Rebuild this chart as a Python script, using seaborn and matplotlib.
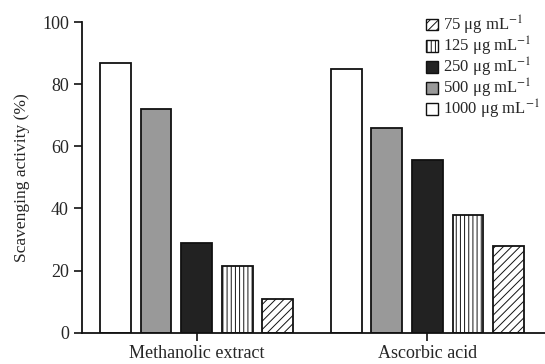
import matplotlib
matplotlib.use("Agg")
import matplotlib.pyplot as plt
import matplotlib.patches as mpatches
import seaborn as sns
import pandas as pd

# Scavenging activity (%) per extract and concentration
groups = ["Methanolic extract", "Ascorbic acid"]
concentrations = ["1000", "500", "250", "125", "75"]
methanolic = [87, 72, 29, 21.5, 11]
ascorbic = [85, 66, 55.5, 38, 28]

fills = {"1000": "#ffffff", "500": "#999999", "250": "#222222",
         "125": "#ffffff", "75": "#ffffff"}
hatches = {"1000": "", "500": "", "250": "", "125": "||||", "75": "////"}

rows = []
for g, vals in zip(groups, [methanolic, ascorbic]):
    for c, v in zip(concentrations, vals):
        rows.append({"group": g, "conc": c, "value": v})
df = pd.DataFrame(rows)

sns.set_style("ticks")
plt.rcParams["font.family"] = ["Liberation Serif", "DejaVu Serif"]
plt.rcParams["mathtext.fontset"] = "stix"
plt.rcParams["hatch.linewidth"] = 0.7
plt.rcParams["hatch.color"] = "#555555"

fig = plt.figure(figsize=(5.45, 3.64), dpi=100)
ax = fig.add_axes([0.1505, 0.086, 0.8495, 0.853])

sns.barplot(data=df, x="group", y="value", hue="conc",
            hue_order=concentrations, order=groups,
            palette=fills, width=0.88, gap=0.24,
            edgecolor="#111111", linewidth=1.3, legend=False, ax=ax)

for cont, c in zip(ax.containers, concentrations):
    for p in cont.patches:
        p.set_hatch(hatches[c])

ax.set_ylim(0, 100)
ax.set_xlim(-0.497, 1.51)
ax.set_yticks([0, 20, 40, 60, 80, 100])
ax.set_xlabel("")
ax.set_ylabel("Scavenging activity (%)", fontsize=12.5)
ax.yaxis.set_label_coords(-0.112, 0.5)
ax.tick_params(axis="both", labelsize=13, length=6, width=1.2,
               color="#111111", direction="out")
ax.tick_params(axis="x", labelsize=13, pad=3)
for s in ["top", "right"]:
    ax.spines[s].set_visible(False)
for s in ["left", "bottom"]:
    ax.spines[s].set_linewidth(1.3)
    ax.spines[s].set_color("#111111")

# Legend lists concentrations from lowest to highest
handles = [mpatches.Patch(facecolor=fills[c], hatch=hatches[c],
                          edgecolor="#111111", linewidth=1.0,
                          label=f"{c} μg mL$^{{-1}}$")
           for c in reversed(concentrations)]
fig.legend(handles=handles, loc="upper left",
           bbox_to_anchor=(0.757, 1.0), frameon=False, fontsize=12,
           handlelength=0.7, handleheight=0.7, handletextpad=0.3,
           labelspacing=-0.12, borderpad=0.3)

fig.savefig("out.png", dpi=100)
